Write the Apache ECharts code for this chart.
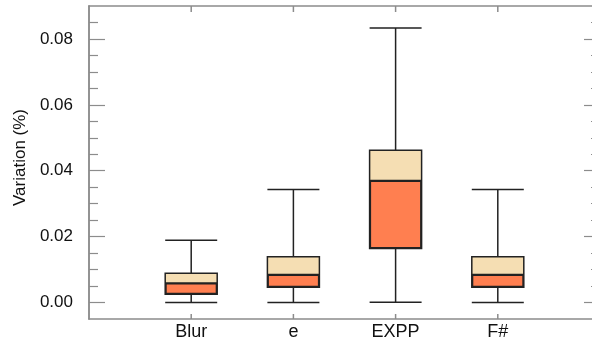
<!DOCTYPE html>
<html><head><meta charset="utf-8">
<script src="https://cdn.jsdelivr.net/npm/echarts@6/dist/echarts.min.js"></script>
<style>html,body{margin:0;padding:0;background:#fff}#c{width:592px;height:342px}</style>
</head><body><div id="c"></div>
<script>
const categories = ['Blur', 'e', 'EXPP', 'F#'];
const whiskerMin = [0.0000, 0.0000, 0.0001, 0.0000];
const q1 = [0.0025, 0.0046, 0.0164, 0.0046];
const median = [0.0059, 0.0085, 0.0370, 0.0085];
const q3 = [0.0089, 0.0139, 0.0462, 0.0139];
const whiskerMax = [0.0189, 0.0343, 0.0833, 0.0343];
const majorTicks = [0, 0.02, 0.04, 0.06, 0.08];
const minorTicks = [0.005, 0.01, 0.015, 0.025, 0.03, 0.035, 0.045, 0.05, 0.055, 0.065, 0.07, 0.075, 0.085];

const cats = [''].concat(categories, ['']);
const catIdx = categories.map((c, i) => i + 1);
const pad = arr => ['-'].concat(arr, ['-']);
const boxData = [['-','-','-','-','-']].concat(
  categories.map((c, i) => [whiskerMin[i], q1[i], median[i], q3[i], whiskerMax[i]]),
  [['-','-','-','-','-']]);
const lowerPart = categories.map((c, i) => +(median[i] - q1[i]).toFixed(6));

const axisGray = '#8c8c8c';
const font = 'Liberation Sans, Arial, sans-serif';
const chart = echarts.init(document.getElementById('c'));
const yBase = {type: 'value', min: -0.005, max: 0.09, splitLine: {show: false},
  axisLine: {show: true, onZero: false, lineStyle: {color: axisGray, width: 1.5}}};
const tick = (len, vals) => ({show: true, inside: true, length: len, customValues: vals, lineStyle: {color: axisGray, width: 1.2}});
chart.setOption({
  animation: false,
  grid: {left: 89, right: -8, top: 6, bottom: 23, containLabel: false, outerBoundsMode: 'none'},
  xAxis: [
    {type: 'category', data: cats, boundaryGap: false, position: 'bottom',
     axisLine: {show: true, onZero: false, lineStyle: {color: axisGray, width: 1.5}},
     axisTick: {show: false},
     axisLabel: {customValues: catIdx, color: '#111', fontFamily: font, fontSize: 18, margin: 4}},
    {type: 'category', data: cats, boundaryGap: false, position: 'top',
     axisLine: {show: true, onZero: false, lineStyle: {color: axisGray, width: 1.5}},
     axisTick: {show: false}, axisLabel: {show: false}}
  ],
  yAxis: [
    Object.assign({}, yBase, {position: 'left',
      name: 'Variation (%)', nameLocation: 'middle', nameGap: 47, nameRotate: 90,
      nameTextStyle: {color: '#111', fontFamily: font, fontSize: 17, padding: [0, 0, 10, 10]},
      axisTick: tick(16, majorTicks),
      axisLabel: {customValues: majorTicks, formatter: v => v.toFixed(2), color: '#111', fontFamily: font, fontSize: 17, margin: 16}}),
    Object.assign({}, yBase, {position: 'left', axisTick: tick(9, minorTicks), axisLabel: {show: false}}),
    Object.assign({}, yBase, {position: 'right', axisTick: tick(16, majorTicks), axisLabel: {show: false}}),
    Object.assign({}, yBase, {position: 'right', axisTick: tick(9, minorTicks), axisLabel: {show: false}})
  ],
  series: [
    {type: 'boxplot', xAxisIndex: 0, yAxisIndex: 0, data: boxData, boxWidth: [52, 52], z: 2,
     itemStyle: {color: '#F5DEB3', borderColor: '#222', borderWidth: 1.5}},
    {type: 'bar', stack: 'b', xAxisIndex: 0, yAxisIndex: 0, data: pad(q1), barWidth: 52, z: 3,
     itemStyle: {color: 'rgba(0,0,0,0)'}, silent: true},
    {type: 'bar', stack: 'b', xAxisIndex: 0, yAxisIndex: 0, data: pad(lowerPart), barWidth: 52, z: 3,
     itemStyle: {color: '#FF7F50', borderColor: '#222', borderWidth: 1.5}},
    {type: 'custom', xAxisIndex: 0, yAxisIndex: 0, z: 10, silent: true, clip: false,
     encode: {x: 0, y: 1},
     data: categories.map(c => [c, 0]),
     renderItem: function (params, api) {
       const x = api.coord([api.value(0), 0])[0];
       const cs = params.coordSys;
       const yb = cs.y + cs.height;
       const st = {stroke: axisGray, lineWidth: 1.5};
       return {type: 'group', children: [
         {type: 'line', shape: {x1: x, y1: yb, x2: x, y2: yb - 5}, style: st},
         {type: 'line', shape: {x1: x, y1: cs.y, x2: x, y2: cs.y + 6}, style: st}
       ]};
     }}
  ]
});
</script></body></html>
